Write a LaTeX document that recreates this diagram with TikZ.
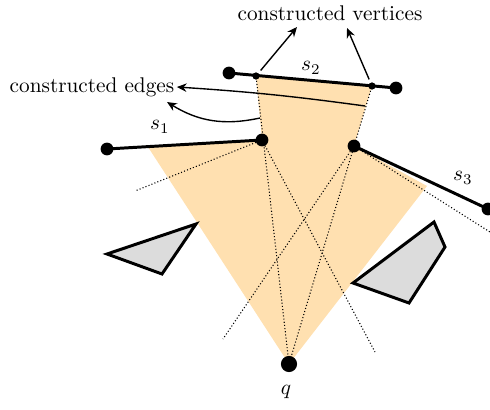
\documentclass[tikz,border=0pt]{standalone}
\usepackage{amsmath}
\usepackage{tikz}
\usetikzlibrary{arrows.meta}

\begin{document}
\begin{tikzpicture}[x=0.47pt,y=-0.47pt]

\definecolor{visfill}{HTML}{FFE0B0}
\definecolor{obstfill}{HTML}{DCDCDC}

\tikzset{
  bigdot/.style={circle, fill=black, minimum size=6pt, inner sep=0pt},
  querydot/.style={circle, fill=black, minimum size=7.6pt, inner sep=0pt},
  smalldot/.style={circle, fill=black, minimum size=3.4pt, inner sep=0pt},
  segedge/.style={draw=black, line width=1.4pt},
  rayedge/.style={draw=black, line width=0.5pt, densely dotted},
  obstacle/.style={draw=black, fill=obstfill, line width=1.4pt, line join=miter},
  labelarrow/.style={
    draw=black, line width=0.65pt, shorten <=1.5pt,
    -{Stealth[length=4.6pt,width=4pt]}
  },
  caption/.style={inner sep=1pt}
}

\useasboundingbox (0,0) rectangle (490,410);

% Visible region of q (clipped by s1, s2, s3).
\fill[visfill] (148,147) -- (262,140) -- (256,76) -- (372,86) -- (354,146)
  -- (427,186) -- (289,364) -- cycle;

% Obstacles.
\draw[obstacle] (107,254) -- (196,224) -- (162,274) -- cycle;
\draw[obstacle] (353,283) -- (434,222) -- (445,247) -- (409,303) -- cycle;

% Points.
\node[querydot] (q)  at (289,364) {};
\node[bigdot]   (a1) at (107,149) {};
\node[bigdot]   (p1) at (262,140) {};
\node[bigdot]   (a2) at (229,73) {};
\node[bigdot]   (b2) at (396,88) {};
\node[bigdot]   (p3) at (354,146) {};
\node[bigdot]   (b3) at (488,209) {};

% Free ends of the dotted rays.
\coordinate (r1) at (135,191);
\coordinate (r2) at (375,352);
\coordinate (r3) at (223,339);
\coordinate (r4) at (490,232);

% Constructed vertices on s2.
\coordinate (v1pos) at (256,76);
\coordinate (v2pos) at (372,86);

% Dotted rays.
\draw[rayedge] (q.center) -- (v1pos);
\draw[rayedge] (q.center) -- (v2pos);
\foreach \from/\to in {p1/r1,p1/r2,p3/r3,p3/r4}
  \draw[rayedge] (\from.center) -- (\to);

% Segments.
\foreach \from/\to in {a1/p1,a2/b2,p3/b3}
  \draw[segedge] (\from.center) -- (\to.center);

\node[smalldot] (v1) at (v1pos) {};
\node[smalldot] (v2) at (v2pos) {};

% Labels.
\node (lq)  at (286,392) {$q$};
\node (ls1) at (160,127) {$s_1$};
\node (ls2) at (311,68)  {$s_2$};
\node (ls3) at (463,178) {$s_3$};

\node[caption] (cv) at (330,13) {constructed vertices};
\node[caption] (ce) at (92,87)  {constructed edges};

\coordinate (cvl) at (297,27);
\coordinate (cvr) at (347,28);
\draw[labelarrow] (v1) -- (cvl);
\draw[labelarrow] (v2) -- (cvr);

\coordinate (ea) at (365,106);
\coordinate (eb) at (260,118);
\coordinate (ceb) at (167,102);
\draw[labelarrow, shorten <=0pt] (ea) to[bend right=2] (ce.east);
\draw[labelarrow, shorten <=0pt] (eb) to[bend left=22] (ceb);

\end{tikzpicture}
\end{document}
